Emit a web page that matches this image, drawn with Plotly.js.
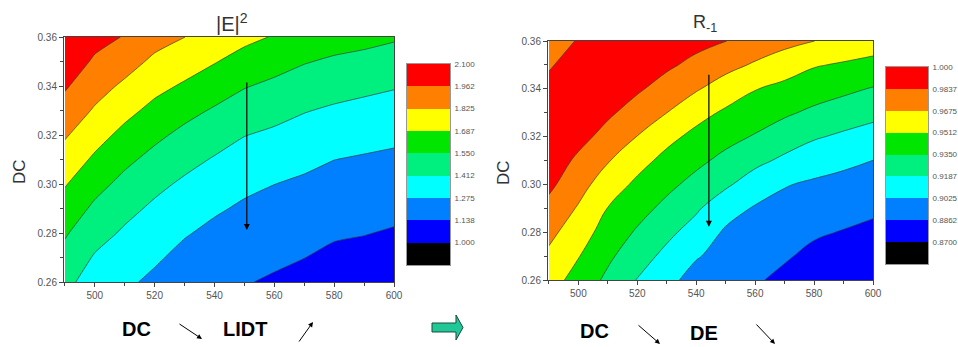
<!DOCTYPE html>
<html>
<head>
<meta charset="utf-8">
<script src="https://cdn.plot.ly/plotly-3.0.1.min.js"></script>
<style>
html,body{margin:0;padding:0;background:#fff;}
#chart{width:958px;height:347px;}
</style>
</head>
<body>
<div id="chart"></div>
<script>
// ---- data ----
const xWave = [490, 500, 510, 520, 530, 540, 550, 560, 570, 580, 590, 600];
const yDC = [0.26, 0.27, 0.28, 0.29, 0.30, 0.31, 0.32, 0.33, 0.34, 0.35, 0.36];

// |E|^2 (rows = DC, cols = wavelength)
const zE2 = [
  [1.455,1.338,1.299,1.247,1.193,1.155,1.145,1.122,1.098,1.070,1.061,1.043],
  [1.508,1.400,1.346,1.294,1.238,1.200,1.182,1.160,1.139,1.111,1.101,1.085],
  [1.564,1.463,1.394,1.341,1.286,1.244,1.219,1.199,1.177,1.152,1.142,1.127],
  [1.630,1.525,1.450,1.389,1.338,1.292,1.256,1.237,1.216,1.193,1.182,1.168],
  [1.697,1.593,1.513,1.445,1.391,1.347,1.303,1.276,1.255,1.234,1.222,1.210],
  [1.768,1.666,1.579,1.511,1.452,1.402,1.359,1.332,1.304,1.276,1.263,1.252],
  [1.839,1.738,1.651,1.579,1.517,1.468,1.416,1.390,1.361,1.335,1.317,1.301],
  [1.909,1.811,1.726,1.651,1.590,1.536,1.486,1.454,1.419,1.395,1.377,1.361],
  [1.978,1.877,1.802,1.725,1.671,1.615,1.558,1.523,1.488,1.461,1.441,1.422],
  [2.047,1.943,1.878,1.799,1.749,1.695,1.639,1.599,1.558,1.531,1.514,1.493],
  [2.090,2.008,1.955,1.873,1.826,1.771,1.720,1.679,1.639,1.607,1.588,1.565]
];

// R_-1 (rows = DC, cols = wavelength)
const zR = [
  [0.9578,0.9454,0.9316,0.9180,0.9075,0.8959,0.8923,0.8880,0.8826,0.8771,0.8740,0.8706],
  [0.9645,0.9520,0.9380,0.9256,0.9147,0.9039,0.8963,0.8924,0.8879,0.8826,0.8798,0.8767],
  [0.9715,0.9591,0.9444,0.9332,0.9225,0.9124,0.9004,0.8968,0.8929,0.8882,0.8855,0.8827],
  [0.9790,0.9661,0.9509,0.9407,0.9309,0.9209,0.9088,0.9011,0.8979,0.8943,0.8918,0.8890],
  [0.9873,0.9733,0.9596,0.9481,0.9389,0.9301,0.9212,0.9110,0.9034,0.9003,0.8981,0.8957],
  [0.9941,0.9804,0.9686,0.9570,0.9466,0.9387,0.9308,0.9228,0.9157,0.9094,0.9057,0.9024],
  [0.9969,0.9895,0.9778,0.9672,0.9559,0.9469,0.9399,0.9338,0.9268,0.9204,0.9162,0.9125],
  [0.9957,0.9963,0.9866,0.9767,0.9676,0.9569,0.9488,0.9429,0.9373,0.9320,0.9272,0.9230],
  [0.9905,0.9979,0.9920,0.9860,0.9773,0.9690,0.9602,0.9519,0.9470,0.9422,0.9384,0.9340],
  [0.9813,0.9945,0.9955,0.9915,0.9865,0.9795,0.9723,0.9657,0.9591,0.9525,0.9496,0.9467],
  [0.9680,0.9860,0.9975,0.9950,0.9925,0.9885,0.9840,0.9771,0.9721,0.9676,0.9623,0.9589]
];

const levelsE2 = [1.0, 1.1375, 1.275, 1.4125, 1.55, 1.6875, 1.825, 1.9625, 2.1];
const labelsE2 = ['1.000','1.138','1.275','1.412','1.550','1.687','1.825','1.962','2.100'];
const levelsR = [0.87, 0.88625, 0.9025, 0.91875, 0.935, 0.95125, 0.9675, 0.98375, 1.0];
const labelsR = ['0.8700','0.8862','0.9025','0.9187','0.9350','0.9512','0.9675','0.9837','1.000'];

const bandColors = ['#000000','#0000FF','#0080FF','#00FFFF','#00F080','#00E600','#FFFF00','#FF8000','#FF0000'];

// ---- helpers ----
const W = 958, H = 347;
const px = v => v / W;
const py = v => (H - v) / H;

function discreteScale(cols) {
  const n = cols.length, s = [];
  cols.forEach((c, i) => { s.push([i / n, c]); s.push([(i + 1) / n, c]); });
  return s;
}
function bandCenters(levels) {
  const cs = levels[1] - levels[0];
  const c = [levels[0] - cs / 2];
  for (let i = 0; i < levels.length - 1; i++) c.push((levels[i] + levels[i + 1]) / 2);
  return c;
}

const fontMain = 'Arial, "Liberation Sans", sans-serif';
const fontTick = '"Liberation Sans Narrow", Arial, "Liberation Sans", sans-serif';

function contourTrace(z, levels, xa, ya, smooth) {
  const cs = levels[1] - levels[0];
  return {
    type: 'contour', x: xWave, y: yDC, z: z, xaxis: xa, yaxis: ya,
    contours: {start: levels[0], end: levels[levels.length - 1], size: cs, coloring: 'fill'},
    colorscale: discreteScale(bandColors),
    line: {color: '#3a3a3a', width: 0.7, smoothing: smooth},
    showscale: false, hoverinfo: 'skip'
  };
}
function barTrace(levels, xa, ya) {
  const cs = levels[1] - levels[0];
  const c = bandCenters(levels);
  return {
    type: 'heatmap', x: [0], y: c, z: c.map(v => [v]), xaxis: xa, yaxis: ya,
    zmin: levels[0] - cs, zmax: levels[levels.length - 1],
    colorscale: discreteScale(bandColors), zsmooth: false,
    showscale: false, hoverinfo: 'skip'
  };
}

function xax(domain, anchor) {
  return {
    domain: domain, anchor: anchor, range: [489.7, 600],
    tick0: 500, dtick: 20, ticks: 'outside', ticklen: 4, tickcolor: '#444',
    minor: {dtick: 10, tick0: 500, ticks: 'outside', ticklen: 3, tickcolor: '#444'},
    showline: true, mirror: true, linecolor: '#444', linewidth: 1,
    showgrid: false, zeroline: false,
    tickfont: {family: fontTick, size: 10, color: '#555'}
  };
}
function yax(domain, anchor) {
  return {
    domain: domain, anchor: anchor, range: [0.26, 0.36],
    tick0: 0.26, dtick: 0.02, tickformat: '.2f', ticks: 'outside', ticklen: 4, tickcolor: '#444',
    minor: {dtick: 0.01, tick0: 0.26, ticks: 'outside', ticklen: 3, tickcolor: '#444'},
    showline: true, mirror: true, linecolor: '#444', linewidth: 1,
    showgrid: false, zeroline: false,
    tickfont: {family: fontTick, size: 10, color: '#555'}
  };
}
function cbx(domain, anchor) {
  return {domain: domain, anchor: anchor, range: [-0.5, 0.5], showticklabels: false, ticks: '',
          showline: true, mirror: true, linecolor: '#999', linewidth: 1, showgrid: false, zeroline: false};
}
function cby(domain, anchor, levels, labels) {
  const cs = levels[1] - levels[0];
  return {domain: domain, anchor: anchor, side: 'right', range: [levels[0] - cs, levels[levels.length - 1]],
          tickmode: 'array', tickvals: levels, ticktext: labels, ticks: '', ticklabelstandoff: 2,
          showline: true, mirror: true, linecolor: '#999', linewidth: 1, showgrid: false, zeroline: false,
          tickfont: {family: fontTick, size: 8, color: '#555'}};
}

const annotations = [
  // titles
  {xref: 'paper', yref: 'paper', x: px(232), y: py(22), text: '|E|<sup>2</sup>', showarrow: false,
   font: {family: fontMain, size: 20, color: '#333'}, xanchor: 'center', yanchor: 'middle'},
  {xref: 'paper', yref: 'paper', x: px(705), y: py(24), text: 'R<sub>-1</sub>', showarrow: false,
   font: {family: fontMain, size: 18, color: '#333'}, xanchor: 'center', yanchor: 'middle'},
  // y titles
  {xref: 'paper', yref: 'paper', x: px(19), y: py(172), text: 'DC', textangle: -90, showarrow: false,
   font: {family: fontMain, size: 17, color: '#333'}, xanchor: 'center', yanchor: 'middle'},
  {xref: 'paper', yref: 'paper', x: px(503), y: py(173), text: 'DC', textangle: -90, showarrow: false,
   font: {family: fontMain, size: 17, color: '#333'}, xanchor: 'center', yanchor: 'middle'},
  // arrows inside plots
  {xref: 'x', yref: 'y', x: 550.8, y: 0.2812, axref: 'x', ayref: 'y', ax: 550.8, ay: 0.342,
   text: '', showarrow: true, arrowhead: 2, arrowsize: 1, arrowwidth: 1.2, arrowcolor: '#000'},
  {xref: 'x2', yref: 'y2', x: 544.3, y: 0.2823, axref: 'x2', ayref: 'y2', ax: 544.3, ay: 0.3465,
   text: '', showarrow: true, arrowhead: 2, arrowsize: 1, arrowwidth: 1.2, arrowcolor: '#000'},
  // bottom texts
  {xref: 'paper', yref: 'paper', x: px(136), y: py(328.5), text: '<b>DC</b>', showarrow: false,
   font: {family: fontMain, size: 20, color: '#000'}, xanchor: 'center', yanchor: 'middle'},
  {xref: 'paper', yref: 'paper', x: px(244.5), y: py(328.5), text: '<b>LIDT</b>', showarrow: false,
   font: {family: fontMain, size: 20, color: '#000'}, xanchor: 'center', yanchor: 'middle'},
  {xref: 'paper', yref: 'paper', x: px(594.5), y: py(330.5), text: '<b>DC</b>', showarrow: false,
   font: {family: fontMain, size: 20, color: '#000'}, xanchor: 'center', yanchor: 'middle'},
  {xref: 'paper', yref: 'paper', x: px(703.5), y: py(333), text: '<b>DE</b>', showarrow: false,
   font: {family: fontMain, size: 20, color: '#000'}, xanchor: 'center', yanchor: 'middle'},
  // small arrows
  {xref: 'paper', yref: 'paper', x: px(202), y: py(339), ax: -24, ay: -16, text: '', showarrow: true,
   arrowhead: 2, arrowsize: 1, arrowwidth: 1, arrowcolor: '#000'},
  {xref: 'paper', yref: 'paper', x: px(313), y: py(322), ax: -15, ay: 21, text: '', showarrow: true,
   arrowhead: 2, arrowsize: 1, arrowwidth: 1, arrowcolor: '#000'},
  {xref: 'paper', yref: 'paper', x: px(660), y: py(344), ax: -23, ay: -20, text: '', showarrow: true,
   arrowhead: 2, arrowsize: 1, arrowwidth: 1, arrowcolor: '#000'},
  {xref: 'paper', yref: 'paper', x: px(775), y: py(344), ax: -20, ay: -21, text: '', showarrow: true,
   arrowhead: 2, arrowsize: 1, arrowwidth: 1, arrowcolor: '#000'}
];

// block arrow (decoration)
const ga = [[432,323],[456,323],[456,315],[463,327.5],[456,340],[456,332],[432,332]];
const gaPath = 'M' + ga.map(p => px(p[0]).toFixed(5) + ',' + py(p[1]).toFixed(5)).join(' L') + ' Z';

const layout = {
  width: W, height: H,
  margin: {l: 0, r: 0, t: 0, b: 0},
  paper_bgcolor: '#fff', plot_bgcolor: '#fff',
  showlegend: false,
  xaxis: xax([px(64), px(394)], 'y'),
  yaxis: yax([py(282), py(37)], 'x'),
  xaxis2: xax([px(548), px(873)], 'y2'),
  yaxis2: yax([py(280), py(41)], 'x2'),
  xaxis3: cbx([px(407), px(450)], 'y3'),
  yaxis3: cby([py(265), py(64)], 'x3', levelsE2, labelsE2),
  xaxis4: cbx([px(886), px(928)], 'y4'),
  yaxis4: cby([py(264), py(67)], 'x4', levelsR, labelsR),
  annotations: annotations,
  shapes: [{type: 'path', xref: 'paper', yref: 'paper', path: gaPath,
            fillcolor: '#1FC896', line: {color: '#1d4a3c', width: 1}}]
};

const traces = [
  contourTrace(zE2, levelsE2, 'x', 'y', 0.5),
  contourTrace(zR, levelsR, 'x2', 'y2', 1.3),
  barTrace(levelsE2, 'x3', 'y3'),
  barTrace(levelsR, 'x4', 'y4')
];

Plotly.newPlot('chart', traces, layout, {displayModeBar: false, staticPlot: true});
</script>
</body>
</html>
